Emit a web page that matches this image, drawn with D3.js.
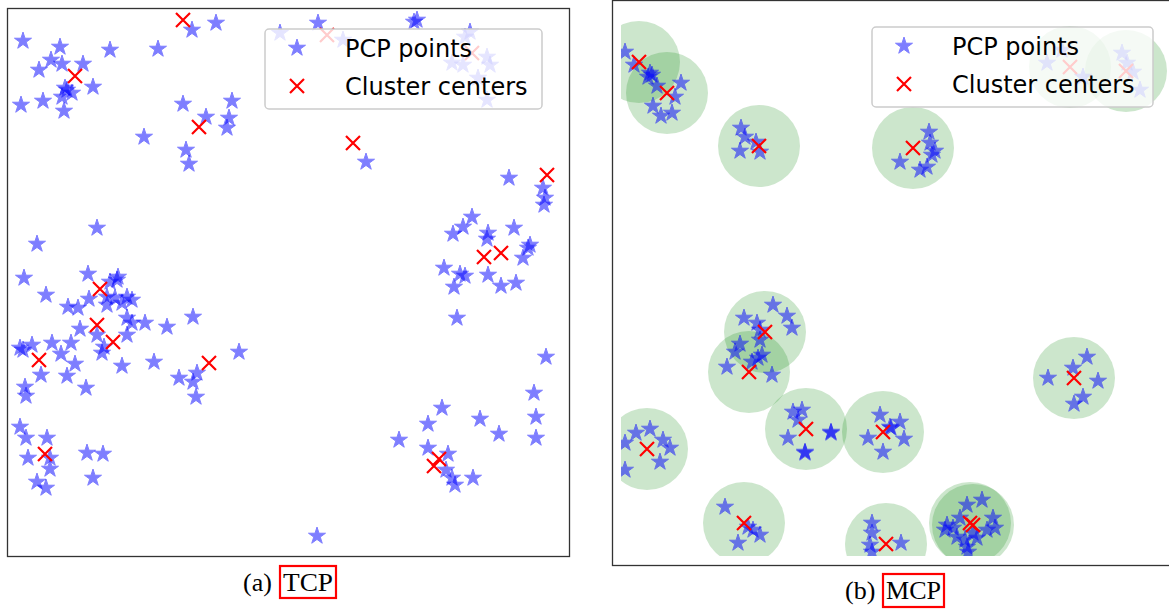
<!DOCTYPE html>
<html lang="en">
<head>
<meta charset="utf-8">
<title>TCP vs MCP cluster centers</title>
<script src="https://cdn.jsdelivr.net/npm/d3@7"></script>
<style>
  body { margin: 0; background: #fff; }
  svg { display: block; }
</style>
</head>
<body>
<svg></svg>
<script>
var width = 1169, height = 610;

// (a) TCP: PCP points and cluster centers, [x, y] in plot units
var tcpPoints = [
  [1.5,51.5],[5.2,50.9],[4.3,49.6],[3.1,48.6],[5.4,49.2],[7.5,49.2],[10.2,50.6],[15.0,50.7],
  [18.4,52.6],[20.8,53.3],[5.7,46.8],[6.4,46.3],[5.4,45.9],[5.9,46.6],[8.5,46.9],[1.3,45.1],
  [3.5,45.5],[5.6,44.5],[17.5,45.2],[22.4,45.5],[19.8,43.9],[22.1,43.8],[21.9,42.8],[13.6,41.9],
  [17.8,40.6],[18.1,39.2],[27.2,52.3],[31.0,53.3],[33.5,51.6],[40.9,53.6],[40.6,53.4],[46.2,52.4],
  [45.7,51.9],[47.9,49.9],[48.2,49.1],[44.4,49.3],[45.5,49.1],[47.0,47.8],[47.9,45.6],[35.8,39.4],
  [50.1,37.8],[53.5,36.8],[53.7,35.8],[8.9,32.8],[2.9,31.2],[1.6,27.8],[3.8,26.1],[8.0,28.2],
  [10.2,27.4],[10.9,27.6],[11.0,27.9],[9.9,25.9],[10.7,25.8],[11.9,25.9],[12.4,25.6],[6.0,24.9],
  [7.0,24.8],[8.1,25.7],[9.9,25.1],[11.4,25.3],[7.2,22.7],[11.9,23.8],[12.4,23.3],[13.7,23.3],
  [15.9,22.9],[18.5,23.9],[8.9,22.1],[11.9,22.1],[9.6,20.9],[9.4,20.3],[4.4,21.3],[6.3,21.3],
  [1.5,20.6],[1.2,20.8],[2.4,21.1],[5.3,20.2],[6.7,19.2],[11.4,19.0],[14.6,19.4],[3.3,18.1],
  [5.9,18.0],[7.8,16.8],[17.1,17.8],[18.9,18.3],[18.5,17.4],[23.1,20.4],[1.7,16.9],[1.8,16.0],
  [18.8,15.9],[53.6,35.1],[46.4,33.9],[45.5,32.9],[44.5,32.2],[48.0,32.3],[47.9,31.7],[50.6,32.8],
  [52.2,31.1],[52.0,30.8],[51.5,29.8],[43.6,28.8],[45.2,28.2],[45.7,28.0],[44.6,26.9],[48.0,28.1],
  [49.3,27.0],[50.8,27.3],[44.9,23.8],[53.8,19.9],[52.6,16.3],[1.2,12.9],[1.8,11.8],[3.9,11.8],
  [2.0,9.8],[4.2,9.8],[4.2,8.7],[7.9,10.3],[9.5,10.2],[2.9,7.4],[3.8,6.8],[8.5,7.8],
  [43.4,14.8],[42.0,13.2],[47.2,13.7],[52.8,13.9],[49.1,12.2],[52.8,11.8],[39.1,11.6],[42.0,10.8],
  [44.0,10.2],[43.8,8.6],[44.4,7.8],[44.7,7.1],[46.5,7.8],[30.9,2.0]
];
var tcpCenters = [
  [17.5,53.6],[6.7,48.0],[19.1,42.9],[31.9,52.1],[46.4,50.3],[34.5,41.3],[53.9,38.1],[47.6,29.9],
  [49.3,30.3],[9.2,26.7],[8.9,23.1],[10.5,21.4],[3.1,19.6],[20.1,19.3],[3.7,10.2],[43.1,9.7],[42.6,9.0]
];

// (b) MCP: PCP points and cluster centers (each center has a coverage disc)
var mcpPoints = [
  [0.4,50.4],[1.3,49.1],[2.9,48.3],[3.1,48.1],[2.7,47.9],[3.6,47.0],[6.0,47.3],[5.4,45.9],
  [3.2,45.0],[4.0,44.0],[5.1,44.3],[12.0,42.8],[12.4,41.9],[11.9,40.5],[13.5,41.4],[13.9,40.4],
  [42.6,49.3],[44.1,50.6],[46.2,47.9],[50.1,50.3],[50.6,49.3],[51.2,48.4],[51.9,46.6],
  [30.8,42.4],[30.9,41.3],[31.1,40.1],[31.4,40.5],[27.9,39.4],[29.9,38.6],[30.6,38.9],
  [15.2,25.1],[16.6,24.0],[17.1,22.8],[12.3,23.8],[13.6,23.3],[13.9,22.6],[13.9,21.6],[11.9,21.2],
  [11.4,20.4],[14.1,20.1],[13.7,19.8],[13.1,19.4],[10.6,18.9],[15.1,18.1],
  [17.2,14.4],[18.1,14.6],[17.7,13.6],[16.7,11.8],[21.0,12.3],[21.0,12.4],[18.4,10.3],[18.4,10.4],
  [1.5,12.3],[2.9,12.7],[4.2,11.6],[4.9,10.8],[3.9,9.4],[0.4,11.3],[0.4,8.6],
  [25.9,14.1],[24.7,11.8],[26.2,10.4],[26.9,12.9],[27.0,12.8],[27.9,13.4],[28.3,11.7],
  [46.6,19.9],[45.2,18.8],[42.7,17.8],[47.7,17.5],[46.2,15.9],[45.3,15.2],
  [10.4,4.9],[12.7,2.9],[13.2,2.6],[13.9,2.1],[11.7,1.3],
  [25.1,3.3],[25.1,2.3],[24.9,1.1],[25.1,0.4],[28.0,1.3],
  [34.6,5.1],[36.1,5.6],[37.2,3.8],[37.4,2.8],[32.6,3.1],[32.4,2.6],[33.6,1.9],[35.6,1.8],
  [34.6,0.9],[34.7,0.4],[33.9,3.8],[36.6,2.6],[35.2,2.3],[34.4,1.6],[33.2,2.8]
];
var mcpCenters = [
  [1.8,49.4],[4.6,46.3],[13.8,41.0],[29.2,40.8],[44.9,48.9],[50.5,48.5],[14.4,22.4],[12.8,18.4],
  [2.6,10.7],[18.5,12.7],[26.2,12.4],[45.3,17.8],[12.3,3.3],[26.5,1.2],[34.9,3.3],[35.2,3.1]
];
var mcpRadius = 4.1;

var legendLabels = ["PCP points", "Cluster centers"];
var captionTags = ["(a)", "(b)"];
var captionNames = ["TCP", "MCP"];

var svg = d3.select("svg").attr("width", width).attr("height", height);

// matplotlib-like "*" marker: filled star with a 1px edge of the same colour, drawn at alpha 0.5
var starPath = d3.symbol().type(d3.symbolStar).size(90)();

function crossPath(h) {
  return "M" + (-h) + "," + (-h) + "L" + h + "," + h + "M" + (-h) + "," + h + "L" + h + "," + (-h);
}

function addStar(sel) {
  sel.attr("d", starPath)
    .attr("fill", "#0000ff")
    .attr("stroke", "#0000ff")
    .attr("stroke-width", 1)
    .attr("stroke-linejoin", "round")
    .attr("opacity", 0.5);
}

function drawPanel(opt) {
  var g = svg.append("g");
  var x = d3.scaleLinear().domain(opt.xDomain).range(opt.xRange);
  var y = d3.scaleLinear().domain(opt.yDomain).range(opt.yRange);

  var clipId = "clip-" + opt.id;
  g.append("clipPath").attr("id", clipId)
    .append("rect")
    .attr("x", opt.clip[0]).attr("y", opt.clip[1])
    .attr("width", opt.clip[2] - opt.clip[0]).attr("height", opt.clip[3] - opt.clip[1]);

  var plot = g.append("g").attr("clip-path", "url(#" + clipId + ")");

  if (opt.radius) {
    var rPx = x(opt.radius) - x(0);
    plot.selectAll("circle.cover")
      .data(opt.centers)
      .enter().append("circle")
      .attr("class", "cover")
      .attr("cx", function(d) { return x(d[0]); })
      .attr("cy", function(d) { return y(d[1]); })
      .attr("r", rPx)
      .attr("fill", "green")
      .attr("fill-opacity", 0.2);
  }

  plot.selectAll("path.star")
    .data(opt.points)
    .enter().append("path")
    .attr("class", "star")
    .attr("transform", function(d) { return "translate(" + x(d[0]) + "," + y(d[1]) + ")"; })
    .call(addStar);

  plot.selectAll("path.center")
    .data(opt.centers)
    .enter().append("path")
    .attr("class", "center")
    .attr("d", crossPath(7))
    .attr("transform", function(d) { return "translate(" + x(d[0]) + "," + y(d[1]) + ")"; })
    .attr("stroke", "#ff0000")
    .attr("stroke-width", 2.2)
    .attr("fill", "none");

  // frame
  g.append("rect")
    .attr("x", opt.frame[0] + 0.5).attr("y", opt.frame[1] + 0.5)
    .attr("width", opt.frame[2] - opt.frame[0]).attr("height", opt.frame[3] - opt.frame[1])
    .attr("fill", "none").attr("stroke", "#333").attr("stroke-width", 1.3);

  // legend
  var L = opt.legend;
  var lg = g.append("g").attr("transform", "translate(" + L.x + "," + L.y + ")");
  lg.append("rect")
    .attr("width", L.w).attr("height", L.h)
    .attr("rx", 4).attr("ry", 4)
    .attr("fill", "#fff").attr("fill-opacity", 0.8)
    .attr("stroke", "#ccc").attr("stroke-width", 1.5);
  lg.append("path")
    .attr("transform", "translate(32,19)")
    .call(addStar);
  lg.append("path").attr("d", crossPath(7))
    .attr("transform", "translate(32,57)")
    .attr("stroke", "#ff0000").attr("stroke-width", 2.2).attr("fill", "none");
  lg.selectAll("text")
    .data(legendLabels)
    .enter().append("text")
    .attr("x", 80)
    .attr("y", function(d, i) { return 28 + i * 38; })
    .attr("font-family", "DejaVu Sans")
    .attr("font-size", 24)
    .attr("fill", "#000")
    .text(function(d) { return d; });

  // caption
  var C = opt.caption;
  var cap = g.append("g");
  cap.append("text")
    .attr("x", C.x).attr("y", C.y)
    .attr("font-family", "Liberation Serif, DejaVu Serif, serif")
    .attr("font-size", 26)
    .attr("fill", "#000")
    .text(captionTags[opt.index]);
  cap.append("text")
    .attr("x", C.nameX).attr("y", C.y)
    .attr("font-family", "Liberation Serif, DejaVu Serif, serif")
    .attr("font-size", 26)
    .attr("textLength", C.nameW)
    .attr("lengthAdjust", "spacingAndGlyphs")
    .attr("fill", "#000")
    .text(captionNames[opt.index]);
  cap.append("rect")
    .attr("x", C.boxX).attr("y", C.boxY)
    .attr("width", C.boxW).attr("height", C.boxH)
    .attr("fill", "none").attr("stroke", "#ff0000").attr("stroke-width", 2.2);
}

drawPanel({
  id: "a", index: 0,
  points: tcpPoints, centers: tcpCenters,
  xDomain: [0, 56.1], xRange: [8, 569],
  yDomain: [0, 54.8], yRange: [556, 8],
  clip: [8, 8, 569, 556],
  frame: [7, 8, 569, 556],
  legend: { x: 265, y: 29, w: 277, h: 80 },
  caption: { x: 243, y: 591, nameX: 283, nameW: 50, boxX: 280, boxY: 566, boxW: 56, boxH: 32 }
});

drawPanel({
  id: "b", index: 1,
  points: mcpPoints, centers: mcpCenters, radius: mcpRadius,
  xDomain: [0, 56], xRange: [621, 1181],
  yDomain: [0, 55.6], yRange: [556, 0],
  clip: [621, 0, 1181, 556],
  frame: [612, 0, 1190, 565],
  legend: { x: 872, y: 27, w: 281, h: 80 },
  caption: { x: 845, y: 599, nameX: 886, nameW: 55, boxX: 883, boxY: 574, boxW: 61, boxH: 33 }
});
</script>
</body>
</html>
